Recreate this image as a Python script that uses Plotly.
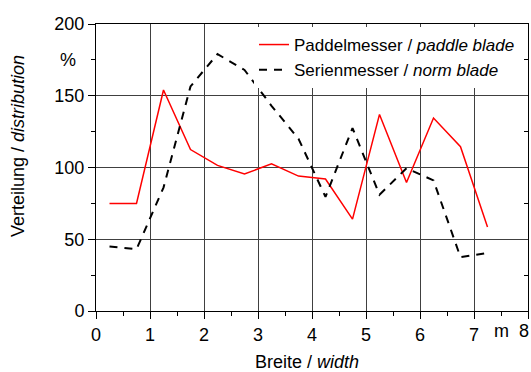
import plotly.graph_objects as go

# data
width_m = [0.25, 0.75, 1.25, 1.75, 2.25, 2.75, 3.25, 3.75, 4.25, 4.75, 5.25, 5.75, 6.25, 6.75, 7.25]
paddle = [75, 75, 154, 112.5, 101.5, 95.5, 102.5, 94, 92, 64, 137, 89.5, 134.5, 114.5, 58.5]
norm = [45, 43, 86, 156.5, 179, 168, 143, 120, 79.5, 127.5, 81, 99.5, 91, 37.5, 40.5]

name_paddle = "Paddelmesser / <i>paddle blade</i>"
name_norm = "Serienmesser / <i>norm blade</i>"
x_title = "Breite / <i>width</i>"
y_title = "Verteilung / <i>distribution</i>"
x_ticks = [0, 1, 2, 3, 4, 5, 6, 7, 8]
x_ticktext = ["0", "1", "2", "3", "4", "5", "6", "7", ""]
y_ticks = [0, 50, 100, 150, 200]

FONT = "Liberation Sans, Arial, sans-serif"
FS = 18

# plot-area geometry (px) for placing free texts
L, R, T, B = 96, 528, 24, 311
PW, PH = R - L, B - T

fig = go.Figure()
fig.add_trace(go.Scatter(x=width_m, y=paddle, mode="lines", name=name_paddle,
                         line=dict(color="#ff0000", width=1.5)))
fig.add_trace(go.Scatter(x=width_m, y=norm, mode="lines", name=name_norm,
                         line=dict(color="#000000", width=2, dash="8px,7px")))
# helper trace so the right-hand tick axis is drawn
fig.add_trace(go.Scatter(x=width_m, y=paddle, mode="lines", yaxis="y2", showlegend=False,
                         hoverinfo="skip", line=dict(width=0, color="rgba(0,0,0,0)")))

fig.update_layout(
    width=531, height=372,
    margin=dict(l=L, r=531 - R, t=T, b=372 - B, autoexpand=False),
    paper_bgcolor="white", plot_bgcolor="white",
    font=dict(family=FONT, size=FS, color="black"),
    showlegend=True,
    legend=dict(x=(254 - L) / PW, y=1 - (27 - T) / PH, xanchor="left", yanchor="top",
                bgcolor="white", borderwidth=0, font=dict(size=17),
                tracegroupgap=0, itemwidth=30),
    xaxis=dict(range=[0, 8], tickvals=x_ticks, ticktext=x_ticktext, ticks="outside", ticklen=7,
               tickcolor="black", showline=True, linecolor="black", linewidth=1,
               mirror=True, showgrid=True, gridcolor="#404040", gridwidth=1,
               zeroline=False, automargin=False, ticklabeloverflow="allow",
               minor=dict(dtick=0.5, ticks="outside", ticklen=4, tickcolor="black", showgrid=False)),
    yaxis=dict(range=[0, 200], tickvals=y_ticks, ticks="outside", ticklen=7,
               tickcolor="black", showline=True, linecolor="black", linewidth=1,
               mirror=True, showgrid=True, gridcolor="#404040", gridwidth=1,
               zeroline=False, automargin=False, ticklabeloverflow="allow",
               minor=dict(dtick=25, ticks="outside", ticklen=4, tickcolor="black", showgrid=False)),
    yaxis2=dict(range=[0, 200], overlaying="y", side="right", anchor="x",
                tickvals=[25, 75, 125, 175], ticks="inside", ticklen=4, tickcolor="black",
                showticklabels=False, showgrid=False, zeroline=False, showline=False,
                automargin=False),
    annotations=[
        dict(text=x_title, x=(306.5 - L) / PW, y=-(362 - B) / PH, xref="paper", yref="paper",
             showarrow=False, xanchor="center", yanchor="middle"),
        dict(text="m", x=7.5, xref="x", y=-(331 - B) / PH, yref="paper", showarrow=False,
             xanchor="center", yanchor="middle"),
        dict(text="8", x=8, xref="x", xshift=2, y=-(331 - B) / PH, yref="paper", showarrow=False,
             xanchor="right", yanchor="middle", borderpad=0),
        dict(text="%", x=-(96 - 68) / PW, xref="paper", y=175, yref="y", showarrow=False,
             xanchor="center", yanchor="middle"),
        dict(text=y_title, textangle=-90, x=-(L - 18) / PW, xref="paper",
             y=(B - 146) / PH, yref="paper", showarrow=False,
             xanchor="center", yanchor="middle"),
    ],
)

# remove the default page margin so the 531x372 figure fills the window exactly
fig.write_html("out.html", config={"displayModeBar": False},
               post_script="document.body.style.margin='0';")
